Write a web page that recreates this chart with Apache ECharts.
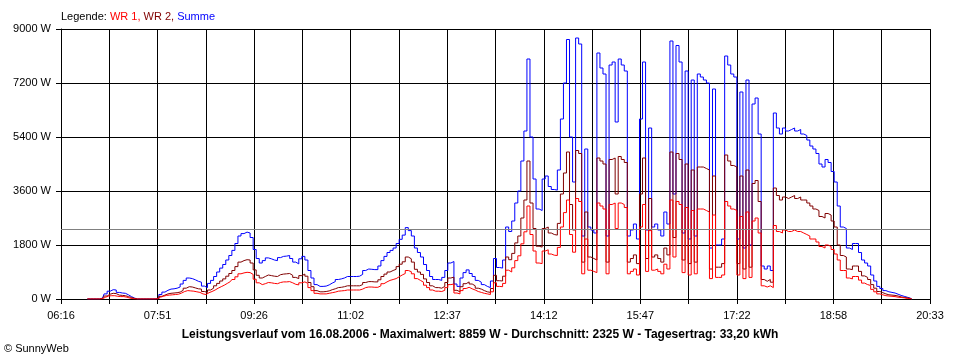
<!DOCTYPE html>
<html>
<head>
<meta charset="utf-8">
<script src="https://cdn.jsdelivr.net/npm/echarts@6/dist/echarts.min.js"></script>
<style>
html,body{margin:0;padding:0;background:#fff;}
#chart{width:960px;height:360px;}
</style>
</head>
<body>
<div id="chart"></div>
<script>
// x-axis tick labels (every second tick is labelled)
const tickLabels = ['06:16','07:51','09:26','11:02','12:37','14:12','15:47','17:22','18:58','20:33'];
const axisStart = '06:16';
const axisEnd = '20:33';
// samples: first sample time and spacing in minutes
const firstSample = '06:42';
const sampleStep = 3;
const avgValue = 2325;

const summe = [
0,0,0,0,0,
30,170,260,310,300,220,200,190,140,80,30,0,
0,0,0,0,0,0,
20,150,230,290,330,340,360,400,500,620,700,680,640,590,560,430,380,
520,620,750,900,1030,1150,1300,1450,1620,1850,
2100,2180,2230,2200,2050,1650,1350,1200,1280,1370,
1340,1300,1280,1380,1420,1430,1450,1350,1230,1170,
1340,1420,1300,950,700,480,420,420,430,470,
530,580,650,670,700,750,750,750,750,760,
820,950,1000,990,980,980,1100,1280,1420,1550,
1620,1700,1850,1990,2130,2380,2280,2100,1700,1550,
1400,1150,950,750,650,650,620,720,950,1200,
1250,500,420,700,880,970,850,750,620,560,
480,420,380,600,1350,1050,1030,1300,2400,2250,
2600,3200,3600,4600,5600,8000,5400,4000,3000,2950,
4000,4100,3750,3650,3630,4300,6000,7200,8650,5400,
3900,8700,8500,2100,5000,2400,2300,2200,8200,7700,
7500,2100,7800,7900,5900,8000,7800,7600,2100,2300,
2500,2000,6000,7900,2300,5700,2400,2500,2300,2100,
2900,2500,8600,3500,8450,7900,2200,7600,2000,7300,
2100,7500,7400,7300,7200,1700,7000,1800,1800,2000,
8100,7800,7500,7400,2000,6900,1700,7300,1800,6500,
6700,5500,1100,1000,1100,950,6200,5700,5500,5700,
5600,5650,5700,5600,5650,5500,5450,5300,5100,5000,
4850,4500,4400,4650,4550,4250,3900,3100,2400,2350,
1700,1650,1850,1850,1550,1300,1200,1100,800,600,
420,350,280,240,220,200,160,120,90,60,30,0
];

const wr2 = [
0,0,0,0,0,
20,100,160,190,180,130,120,110,80,50,20,0,
0,0,0,0,0,0,
10,90,130,170,190,200,210,230,290,360,410,400,370,340,330,250,220,
300,360,440,520,600,670,760,850,950,1080,
1230,1280,1310,1300,1200,970,790,700,750,800,
780,760,750,810,830,840,850,790,720,680,
780,830,760,550,410,280,240,240,250,270,
310,340,380,390,410,440,440,440,440,440,
480,550,580,580,570,570,640,750,830,900,
950,990,1080,1160,1240,1400,1340,1230,990,900,
820,670,550,440,380,380,360,420,550,700,
730,290,240,410,510,570,500,440,360,330,
280,240,220,350,790,610,600,760,1400,1310,
1520,1870,2100,2700,3300,4600,3200,2350,1760,1730,
2350,2400,2200,2150,2130,2520,3500,4200,4900,3150,
2300,4950,4850,1230,2900,1400,1350,1300,4700,4600,
4500,1230,4650,4700,3500,4750,4650,4550,1230,1350,
1470,1180,3500,4700,1350,3350,1400,1470,1350,1230,
1700,1470,4900,2050,4850,4650,1300,4500,1180,4300,
1230,4400,4400,4350,4300,1000,4100,1060,1060,1180,
4800,4600,4450,4400,1180,4100,1000,4300,1060,3850,
3950,3250,650,590,650,560,3700,3450,3300,3400,
3350,3400,3450,3350,3400,3300,3300,3200,3100,3000,
2950,2750,2700,2850,2800,2600,2400,1800,1450,1400,
1000,980,1100,1100,920,770,720,650,480,360,
250,210,170,140,130,120,100,70,50,40,20,0
];

const wr1 = [
0,0,0,0,0,
10,60,100,110,110,90,80,80,60,30,10,0,
0,0,0,0,0,0,
10,60,90,120,130,140,150,160,200,250,280,270,260,240,220,170,150,
210,250,300,360,410,460,520,580,650,740,
840,870,890,880,820,660,540,480,510,550,
540,520,510,550,570,570,580,540,490,470,
540,570,520,380,280,190,170,170,170,190,
210,230,260,270,280,300,300,300,300,300,
330,380,400,400,390,390,440,510,570,620,
650,680,740,800,850,950,910,840,680,620,
560,460,380,300,260,260,250,290,380,480,
500,200,170,280,350,390,340,300,250,220,
190,170,150,240,540,420,410,520,960,900,
1040,1280,1440,1840,2240,3100,2150,1600,1200,1180,
1600,1640,1500,1460,1450,1720,2400,2880,3300,2150,
1560,3350,3250,840,2000,960,920,880,3200,3100,
3000,840,3150,3200,2350,3200,3150,3050,840,920,
1000,800,2400,3150,920,2280,960,1000,920,840,
1160,1000,3300,1400,3250,3150,880,3050,800,2950,
840,3000,3000,2950,2900,680,2800,720,720,800,
3250,3100,3000,2950,800,2750,680,2900,720,2600,
2700,2200,440,400,440,380,2450,2250,2200,2300,
2250,2250,2300,2250,2250,2200,2150,2100,2000,2000,
1900,1750,1700,1800,1750,1650,1500,1300,950,950,
700,670,750,750,630,530,480,450,320,240,
170,140,110,100,90,80,60,50,40,20,10,0
];

function toMin(s){ const p = s.split(':'); return (+p[0])*60 + (+p[1]); }
const x0 = toMin(axisStart);
const xMax = toMin(axisEnd) - x0;
const xInterval = xMax / 18;
const s0 = toMin(firstSample) - x0;
function build(arr){ return arr.map((v,i)=>[s0 + sampleStep*i, v]); }

const FONT = 'Liberation Sans, Arial, sans-serif';
const chart = echarts.init(document.getElementById('chart'), null, {renderer:'canvas', width:960, height:360});
chart.setOption({
  animation:false,
  backgroundColor:'#ffffff',
  title:[
    {left:61, top:11, padding:0,
     text:'{k|Legende: }{r|WR 1, }{d|WR 2, }{b|Summe}',
     textStyle:{fontWeight:'normal', fontSize:11, fontFamily:FONT, rich:{
       k:{color:'#000', fontSize:11, fontWeight:'normal', fontFamily:FONT},
       r:{color:'#ff0000', fontSize:11, fontWeight:'normal', fontFamily:FONT},
       d:{color:'#800000', fontSize:11, fontWeight:'normal', fontFamily:FONT},
       b:{color:'#0000ff', fontSize:11, fontWeight:'normal', fontFamily:FONT}
     }}},
    {left:'center', top:329, padding:0,
     text:'Leistungsverlauf vom 16.08.2006 - Maximalwert: 8859 W - Durchschnitt: 2325 W - Tagesertrag: 33,20 kWh',
     textStyle:{color:'#000', fontSize:12, fontWeight:'bold', fontFamily:FONT}},
    {left:4, top:343, padding:0, text:'© SunnyWeb',
     textStyle:{color:'#000', fontSize:11, fontWeight:'normal', fontFamily:FONT}}
  ],
  grid:{left:61, right:30, top:29, bottom:61, containLabel:false},
  xAxis:{
    type:'value', min:0, max:xMax, interval:xInterval,
    axisLine:{show:true, lineStyle:{color:'#000', width:1}},
    axisTick:{show:true, length:5, lineStyle:{color:'#000'}},
    splitLine:{show:true, lineStyle:{color:'#000', width:1}},
    axisLabel:{
      margin:11, color:'#000', fontSize:11, fontFamily:FONT, showMinLabel:true, showMaxLabel:true,
      formatter:function(v){ const k = Math.round(v / xInterval); return k % 2 === 0 ? tickLabels[k/2] : ''; }
    }
  },
  yAxis:{
    type:'value', min:0, max:9000, interval:1800,
    axisLine:{show:true, lineStyle:{color:'#000', width:1}},
    axisTick:{show:true, length:5, lineStyle:{color:'#000'}},
    splitLine:{show:true, lineStyle:{color:'#000', width:1}},
    axisLabel:{margin:10, color:'#000', fontSize:11, fontFamily:FONT,
      formatter:function(v){ return String(v) + ' W'; }}
  },
  series:[
    {name:'Summe', type:'line', data:build(summe), showSymbol:false, step:'middle',
     lineStyle:{color:'#0000ff', width:1}, itemStyle:{color:'#0000ff'},
     markLine:{silent:true, symbol:'none', label:{show:false},
       lineStyle:{color:'#808080', width:1, type:'solid'}, data:[{yAxis:avgValue}]}},
    {name:'WR 2', type:'line', data:build(wr2), showSymbol:false, step:'middle',
     lineStyle:{color:'#800000', width:1}, itemStyle:{color:'#800000'}},
    {name:'WR 1', type:'line', data:build(wr1), showSymbol:false, step:'middle',
     lineStyle:{color:'#ff0000', width:1}, itemStyle:{color:'#ff0000'}}
  ]
});
</script>
</body>
</html>
